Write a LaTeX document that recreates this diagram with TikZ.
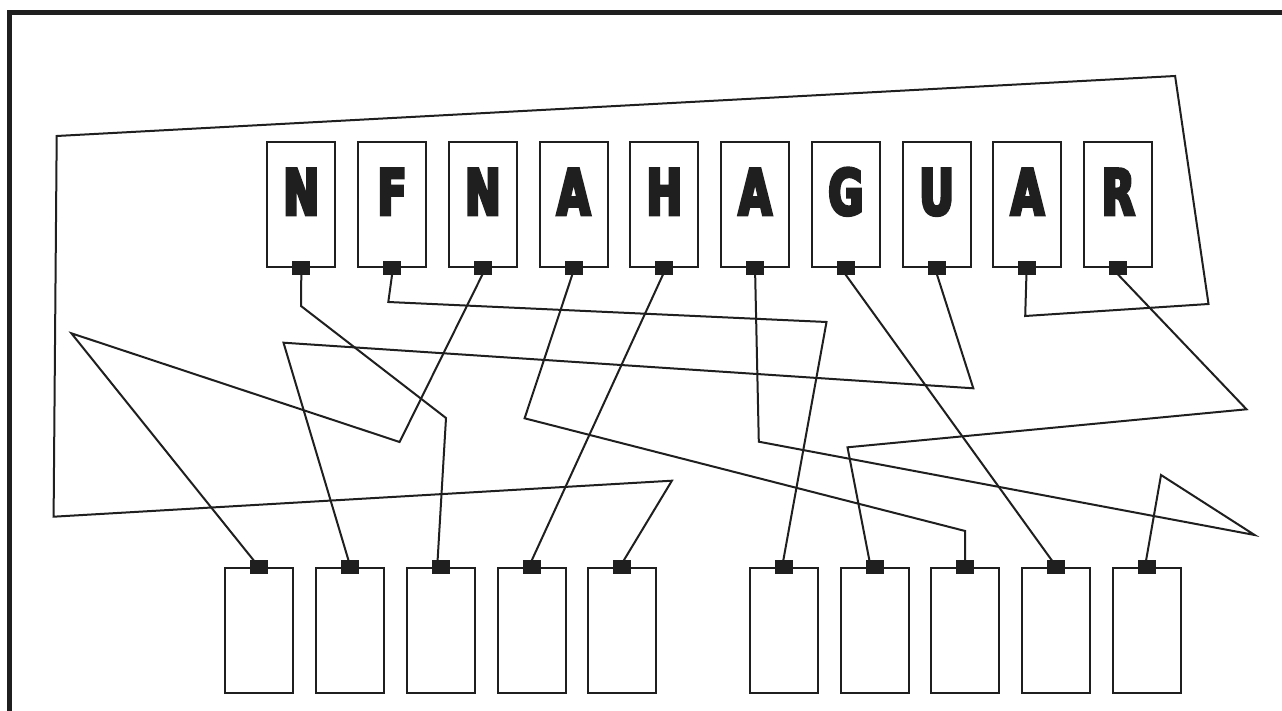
\documentclass[tikz,border=0pt]{standalone}
\usepackage{fontspec}
\newfontfamily\heavyfont{DejaVu Sans}[UprightFont={* Bold},FakeStretch=0.68,FakeBold=5]
\tikzset{
  topbox/.style={draw=black!88, line width=2pt, rectangle, inner xsep=0pt, inner ysep=0pt,
     minimum width=68pt, minimum height=125pt, text height=73pt, text depth=52pt,
     font=\heavyfont\fontsize{63}{63}\selectfont, text=black!88},
  botbox/.style={draw=black!88, line width=2pt, rectangle, inner sep=0pt,
     minimum width=68pt, minimum height=125pt},
  pin/.style={fill=black!88, rectangle, inner sep=0pt, minimum width=18pt, minimum height=14pt},
  wire/.style={draw=black!88, line width=2pt, line join=miter},
  frameline/.style={draw=black!88, line width=5pt, line join=miter}
}
\begin{document}
\begin{tikzpicture}[x=1pt,y=-1pt]
\useasboundingbox (0,0) rectangle (1282,711);
\fill[white] (0,0) rectangle (1282,711);
\draw[frameline] (9.7,720) -- (9.7,12.7) -- (1290,12.7);
% top boxes
\foreach \i/\l in {1/N,2/F,3/N,4/A,5/H,6/A,7/G,8/U,9/A,10/R}{
  \node[topbox] (t\i) at ({301.3+90.77*(\i-1)},204.2) {\l};
}
% bottom boxes
\foreach \i in {1,...,5}{
  \node[botbox] (b\i) at ({259.4+90.75*(\i-1)},630.8) {};
}
\foreach \i in {6,...,10}{
  \node[botbox] (b\i) at ({784+90.7*(\i-6)},630.8) {};
}
% wires
\draw[wire] (t1.south) ++(0,7) coordinate (w1) -- (301,306) -- (446,418) -- (437.5,562);
\draw[wire] (t2.south) ++(0,7) coordinate (w2) -- (388.3,302) -- (826.5,322) -- (783,562);
\draw[wire] (t3.south) ++(0,6) coordinate (w3) -- (399.6,442) -- (71.4,333.3) -- (255,562);
\draw[wire] (t4.south) ++(-1,6) coordinate (w4) -- (524.6,418.3) -- (965.2,531) -- (965.2,562);
\draw[wire] (t5.south) ++(-1,6) coordinate (w5) -- (531,562);
\draw[wire] (t6.south) ++(0,6) coordinate (w6) -- (758.8,441.7) -- (1254.6,535) -- (1161,475) -- (1145.8,562);
\draw[wire] (t7.south) ++(-1,6) coordinate (w7) -- (1053,562);
\draw[wire] (t8.south) ++(0,6) coordinate (w8) -- (973.3,388.3) -- (283.5,342.7) -- (349,562);
\draw[wire] (t9.south) ++(-1,6) coordinate (w9) -- (1025.2,316) -- (1208.5,304) -- (1175.1,76) -- (56.7,136) -- (53.6,516.7) -- (671.9,480.7) -- (622.8,562);
\draw[wire] (t10.south) ++(-1,6) coordinate (w10) -- (1246.5,409.3) -- (847.5,447.3) -- (869.7,562);
% pins
\foreach \i in {1,...,10}{
  \node[pin] (p\i) at (t\i.south) {};
  \node[pin] (q\i) at (b\i.north) {};
}
\end{tikzpicture}
\end{document}
